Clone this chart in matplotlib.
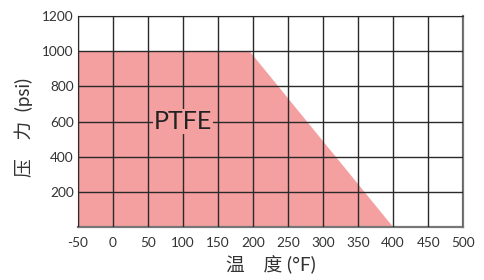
import matplotlib
matplotlib.use("Agg")
import matplotlib.pyplot as plt

# données
temp_ticks = [-50, 0, 50, 100, 150, 200, 250, 300, 350, 400, 450, 500]
pressure_ticks = [200, 400, 600, 800, 1000, 1200]
ptfe_temp = [-50, -50, 195, 400]
ptfe_pressure = [0, 1000, 1000, 0]

plt.rcParams['font.family'] = ['Lato', 'Noto Sans CJK SC', 'DejaVu Sans']
plt.rcParams['axes.unicode_minus'] = False

fig = plt.figure(figsize=(4.84, 2.80), dpi=100)
ax = fig.add_axes([0.161, 0.189, 0.796, 0.754])

ax.fill(ptfe_temp, ptfe_pressure, color="#f4a0a0", lw=0, zorder=1)

ax.set_xlim(-50, 500)
ax.set_ylim(0, 1200)
ax.set_xticks(temp_ticks)
ax.set_yticks(pressure_ticks)
ax.grid(True, color="#2a2a2a", lw=1.0, zorder=2)
ax.set_axisbelow(False)
ax.tick_params(length=0, labelsize=9.8, labelcolor="#333333")
ax.tick_params(axis="x", pad=7)
ax.tick_params(axis="y", pad=3)

for side in ["top", "left"]:
    ax.spines[side].set_color("#2a2a2a")
for side in ["right", "bottom"]:
    ax.spines[side].set_color("#777777")
    ax.spines[side].set_linewidth(1.6)

ax.text(100, 600, "PTFE", ha="center", va="center", fontsize=18,
        color="#222222", zorder=3,
        bbox=dict(facecolor="#f4a0a0", edgecolor="none", pad=0.5))

ax.set_xlabel("温　度 (°F)", fontsize=13.5, color="#333333")
ax.set_ylabel("压　力  (psi)", fontsize=13.5, color="#333333")
ax.xaxis.set_label_coords(0.5, -0.135)
ax.yaxis.set_label_coords(-0.117, 0.47)

fig.savefig("out.png", dpi=100)
